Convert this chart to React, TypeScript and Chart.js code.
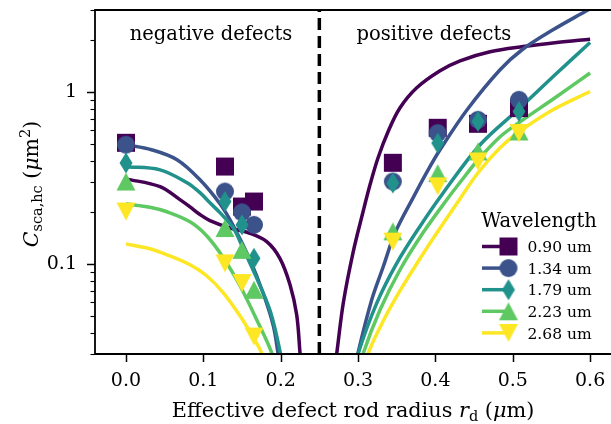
import React, { useEffect, useRef } from 'react';
import { Chart, registerables } from 'chart.js';

Chart.register(...registerables);

// ---------- data ----------
const WAVELENGTHS = ['0.90 um', '1.34 um', '1.79 um', '2.23 um', '2.68 um'];
const COLORS = ['#440154', '#3b528b', '#21918c', '#5ec962', '#fde725'];
const MARKERS = ['square', 'circle', 'thinDiamond', 'triangleUp', 'triangleDown'];

const X_TICKS = [0, 0.1, 0.2, 0.3, 0.4, 0.5, 0.6];
const Y_TICKS = [0.03, 0.04, 0.05, 0.06, 0.07, 0.08, 0.09, 0.1, 0.2, 0.3, 0.4, 0.5, 0.6, 0.7, 0.8, 0.9, 1, 2, 3];
const Y_LABELED = [0.1, 1];
const X_MIN = -0.04;
const X_MAX = 0.627;
const Y_MIN = 0.03;
const Y_MAX = 3;
const DIVIDER_X = 0.25;
const NEG_LABEL_X = 0.11;
const POS_LABEL_X = 0.398;

// measured points
const NEG_X = [0.0, 0.128, 0.150, 0.1655];
const POS_X = [0.345, 0.403, 0.455, 0.508];
const C_090_NEG = [0.507, 0.369, 0.216, 0.231];
const C_090_POS = [0.388, 0.620, 0.654, 0.807];
const C_134_NEG = [0.494, 0.264, 0.200, 0.169];
const C_134_POS = [0.302, 0.578, 0.690, 0.902];
const C_179_NEG = [0.387, 0.231, 0.169, 0.108];
const C_179_POS = [0.296, 0.505, 0.675, 0.771];
const C_223_NEG = [0.302, 0.162, 0.121, 0.0709];
const C_223_POS = [0.155, 0.338, 0.452, 0.590];
const C_268_NEG = [0.202, 0.101, 0.0776, 0.0379];
const C_268_POS = [0.135, 0.283, 0.395, 0.578];

// fitted curves [x, C]
const FIT_090_NEG = [[0, 0.313], [0.044, 0.282], [0.0698, 0.237], [0.0828, 0.215], [0.0957, 0.194], [0.1086, 0.179], [0.1345, 0.162], [0.1603, 0.151], [0.182, 0.135], [0.199, 0.108], [0.2121, 0.0758], [0.2207, 0.0507], [0.225, 0.0304], [0.2265, 0.025]];
const FIT_134_NEG = [[0, 0.494], [0.033, 0.462], [0.066, 0.404], [0.0957, 0.309], [0.1215, 0.224], [0.1388, 0.167], [0.1603, 0.106], [0.1776, 0.0672], [0.1905, 0.0438], [0.1966, 0.0302], [0.1985, 0.026]];
const FIT_179_NEG = [[0, 0.368], [0.044, 0.353], [0.079, 0.297], [0.0957, 0.260], [0.1086, 0.227], [0.1215, 0.199], [0.1388, 0.162], [0.1517, 0.1227], [0.169, 0.0829], [0.1867, 0.053], [0.1996, 0.0304], [0.2015, 0.026]];
const FIT_223_NEG = [[0, 0.224], [0.031, 0.214], [0.053, 0.2014], [0.0828, 0.176], [0.1043, 0.146], [0.1259, 0.1088], [0.1474, 0.0748], [0.169, 0.0475], [0.1888, 0.0302], [0.1905, 0.026]];
const FIT_268_NEG = [[0, 0.131], [0.031, 0.1227], [0.053, 0.1132], [0.0828, 0.099], [0.1043, 0.0855], [0.1259, 0.0681], [0.1474, 0.050], [0.1647, 0.0373], [0.1755, 0.0302], [0.177, 0.026]];

const FIT_090_POS = [[0.2705, 0.026], [0.2725, 0.0303], [0.281, 0.0596], [0.2935, 0.1163], [0.3065, 0.2014], [0.3155, 0.289], [0.3259, 0.415], [0.3388, 0.588], [0.3543, 0.810], [0.3759, 1.059], [0.406, 1.33], [0.4319, 1.52], [0.4707, 1.715], [0.5134, 1.84], [0.557, 1.943], [0.6, 2.03]];
const FIT_134_POS = [[0.298, 0.026], [0.300, 0.0304], [0.3177, 0.062], [0.3327, 0.0968], [0.3479, 0.152], [0.3718, 0.246], [0.3906, 0.353], [0.406, 0.462], [0.441, 0.789], [0.4836, 1.348], [0.5121, 1.762], [0.552, 2.30], [0.5936, 2.94], [0.6, 3.05]];
const FIT_179_POS = [[0.299, 0.026], [0.3004, 0.0304], [0.3242, 0.0593], [0.350, 0.101], [0.380, 0.1655], [0.410, 0.259], [0.4578, 0.494], [0.5095, 0.810], [0.5547, 1.26], [0.6, 1.94]];
const FIT_223_POS = [[0.305, 0.026], [0.3069, 0.0304], [0.3285, 0.0542], [0.3543, 0.0927], [0.384, 0.152], [0.4147, 0.2365], [0.4345, 0.309], [0.4552, 0.404], [0.4836, 0.550], [0.5095, 0.672], [0.5547, 0.927], [0.6, 1.29]];
const FIT_268_POS = [[0.3115, 0.026], [0.3133, 0.0304], [0.3327, 0.0468], [0.3543, 0.070], [0.380, 0.1074], [0.402, 0.152], [0.4319, 0.240], [0.4552, 0.3395], [0.4836, 0.4744], [0.5082, 0.5876], [0.552, 0.789], [0.6, 1.008]];

const MEAS_NEG = [C_090_NEG, C_134_NEG, C_179_NEG, C_223_NEG, C_268_NEG];
const MEAS_POS = [C_090_POS, C_134_POS, C_179_POS, C_223_POS, C_268_POS];
const FITS_NEG = [FIT_090_NEG, FIT_134_NEG, FIT_179_NEG, FIT_223_NEG, FIT_268_NEG];
const FITS_POS = [FIT_090_POS, FIT_134_POS, FIT_179_POS, FIT_223_POS, FIT_268_POS];

// ---------- styling ----------
const FONT = '"DejaVu Serif", serif';

function makeMarker(kind: string, color: string): HTMLCanvasElement {
  const S = 26;
  const c = document.createElement('canvas');
  c.width = S;
  c.height = S;
  const g = c.getContext('2d')!;
  const m = S / 2;
  g.fillStyle = color;
  g.beginPath();
  if (kind === 'square') {
    g.rect(m - 9, m - 9, 18, 18);
  } else if (kind === 'circle') {
    g.arc(m, m, 9, 0, Math.PI * 2);
  } else if (kind === 'thinDiamond') {
    g.moveTo(m, m - 10.5);
    g.lineTo(m + 6.5, m);
    g.lineTo(m, m + 10.5);
    g.lineTo(m - 6.5, m);
    g.closePath();
  } else if (kind === 'triangleUp') {
    g.moveTo(m, m - 9);
    g.lineTo(m + 9.5, m + 9);
    g.lineTo(m - 9.5, m + 9);
    g.closePath();
  } else {
    g.moveTo(m, m + 9);
    g.lineTo(m + 9.5, m - 9);
    g.lineTo(m - 9.5, m - 9);
    g.closePath();
  }
  g.fill();
  return c;
}

type Piece = { t: string; font: string; dy: number };

function drawPieces(ctx: CanvasRenderingContext2D, pieces: Piece[], cx: number, by: number) {
  let total = 0;
  const widths = pieces.map((p) => {
    ctx.font = p.font;
    const w = ctx.measureText(p.t).width;
    total += w;
    return w;
  });
  let x = cx - total / 2;
  ctx.textAlign = 'left';
  ctx.textBaseline = 'alphabetic';
  pieces.forEach((p, i) => {
    ctx.font = p.font;
    ctx.fillText(p.t, x, by + p.dy);
    x += widths[i];
  });
}

function zeroPad(s: any) {
  s.paddingLeft = 0;
  s.paddingRight = 0;
  s.paddingTop = 0;
  s.paddingBottom = 0;
}

export default function App() {
  const ref = useRef<HTMLCanvasElement | null>(null);

  useEffect(() => {
    const canvas = ref.current;
    if (!canvas) return;
    const markerImgs = MARKERS.map((k, i) => makeMarker(k, COLORS[i]));

    const datasets: any[] = [];
    WAVELENGTHS.forEach((w, i) => {
      [FITS_NEG[i], FITS_POS[i]].forEach((fit, side) => {
        datasets.push({
          label: w + (side ? ' pos fit' : ' neg fit'),
          data: fit.map(([x, y]) => ({ x, y })),
          borderColor: COLORS[i],
          backgroundColor: COLORS[i],
          borderWidth: 3.5,
          pointRadius: 0,
          pointHoverRadius: 0,
          fill: false,
          tension: 0.35,
          clip: 0,
          order: 30 - i,
        });
      });
    });
    WAVELENGTHS.forEach((w, i) => {
      const pts = [
        ...NEG_X.map((x, k) => ({ x, y: MEAS_NEG[i][k] })),
        ...POS_X.map((x, k) => ({ x, y: MEAS_POS[i][k] })),
      ];
      datasets.push({
        label: w,
        data: pts,
        showLine: false,
        pointStyle: markerImgs[i],
        pointRadius: 9,
        pointHoverRadius: 9,
        borderColor: COLORS[i],
        backgroundColor: COLORS[i],
        clip: false,
        order: 4 - i,
      });
    });
    datasets.push({
      label: 'divider',
      data: [{ x: DIVIDER_X, y: Y_MIN }, { x: DIVIDER_X, y: Y_MAX }],
      borderColor: '#000',
      borderWidth: 3.5,
      borderDash: [12, 6],
      pointRadius: 0,
      clip: 0,
      order: 10,
    });

    const decor = {
      id: 'decor',
      afterDraw(chart: any) {
        const ctx: CanvasRenderingContext2D = chart.ctx;
        const { left, right, top, bottom } = chart.chartArea;
        const xs = chart.scales.x;
        const ys = chart.scales.y;
        ctx.save();
        ctx.strokeStyle = '#000';
        ctx.fillStyle = '#000';
        // spines
        ctx.lineWidth = 1.8;
        ctx.lineCap = 'square';
        ctx.beginPath();
        ctx.moveTo(right + 2, top);
        ctx.lineTo(left, top);
        ctx.lineTo(left, bottom);
        ctx.lineTo(right + 2, bottom);
        ctx.stroke();
        // ticks
        ctx.lineCap = 'butt';
        ctx.lineWidth = 1.5;
        X_TICKS.forEach((v) => {
          const px = Math.round(xs.getPixelForValue(v)) + 0.5;
          ctx.beginPath();
          ctx.moveTo(px, bottom);
          ctx.lineTo(px, bottom + 8);
          ctx.stroke();
        });
        Y_TICKS.forEach((v) => {
          const major = Y_LABELED.includes(v);
          const py = Math.round(ys.getPixelForValue(v)) + 0.5;
          ctx.lineWidth = major ? 1.5 : 1.1;
          ctx.beginPath();
          ctx.moveTo(left - (major ? 8 : 4.5), py);
          ctx.lineTo(left, py);
          ctx.stroke();
        });
        // annotations
        ctx.font = `19.5px ${FONT}`;
        ctx.textAlign = 'center';
        ctx.textBaseline = 'alphabetic';
        ctx.fillText('negative defects', xs.getPixelForValue(NEG_LABEL_X), top + 30);
        ctx.fillText('positive defects', xs.getPixelForValue(POS_LABEL_X), top + 30);

        // x title
        drawPieces(ctx, [
          { t: 'Effective defect rod radius ', font: `20.8px ${FONT}`, dy: 0 },
          { t: 'r', font: `italic 20.8px ${FONT}`, dy: 0 },
          { t: 'd', font: `14.5px ${FONT}`, dy: 4 },
          { t: ' (', font: `20.8px ${FONT}`, dy: 0 },
          { t: 'μ', font: `italic 20.8px ${FONT}`, dy: 0 },
          { t: 'm)', font: `20.8px ${FONT}`, dy: 0 },
        ], (left + right) / 2, 417);

        // y title
        ctx.save();
        ctx.translate(38, (top + bottom) / 2 + 2);
        ctx.rotate(-Math.PI / 2);
        drawPieces(ctx, [
          { t: 'C', font: `italic 20.5px ${FONT}`, dy: 0 },
          { t: 'sca,hc', font: `14.5px ${FONT}`, dy: 4 },
          { t: ' (', font: `20.5px ${FONT}`, dy: 0 },
          { t: 'μ', font: `italic 20.5px ${FONT}`, dy: 0 },
          { t: 'm', font: `20.5px ${FONT}`, dy: 0 },
          { t: '2', font: `14.5px ${FONT}`, dy: -8 },
          { t: ')', font: `20.5px ${FONT}`, dy: 0 },
        ], 0, 0);
        ctx.restore();

        // legend
        const lineX0 = right - 129;
        const markX = right - 102.5;
        const textX = right - 83.5;
        ctx.font = `19.5px ${FONT}`;
        ctx.textAlign = 'center';
        ctx.fillText('Wavelength', right - 72, bottom - 127.5);
        WAVELENGTHS.forEach((w, i) => {
          const y = bottom - 107.5 + i * 21.6;
          ctx.strokeStyle = COLORS[i];
          ctx.lineWidth = 3.5;
          ctx.beginPath();
          ctx.moveTo(lineX0, y);
          ctx.lineTo(markX, y);
          ctx.stroke();
          const img = markerImgs[i];
          ctx.drawImage(img, markX - img.width / 2, y - img.height / 2);
          ctx.fillStyle = '#000';
          ctx.font = `15.5px ${FONT}`;
          ctx.textAlign = 'left';
          ctx.fillText(w, textX, y + 5.6);
        });
        ctx.restore();
      },
    };

    const chart = new Chart(canvas, {
      type: 'line',
      data: { datasets },
      options: {
        responsive: false,
        maintainAspectRatio: false,
        animation: false,
        events: [],
        layout: { autoPadding: false, padding: { top: 10, right: 0, left: 0, bottom: 0 } },
        plugins: { legend: { display: false }, tooltip: { enabled: false } },
        scales: {
          x: {
            type: 'linear',
            min: X_MIN,
            max: X_MAX,
            afterBuildTicks: (s: any) => {
              s.ticks = X_TICKS.map((v) => ({ value: v }));
            },
            afterFit: (s: any) => {
              s.height = 70;
              zeroPad(s);
            },
            ticks: {
              autoSkip: false,
              maxRotation: 0,
              padding: 8,
              color: '#000',
              font: { family: FONT, size: 19 },
              callback: (v: any) => Number(v).toFixed(1),
            },
            grid: { drawOnChartArea: false, drawTicks: true, tickLength: 8, color: 'rgba(0,0,0,0)' },
            border: { display: false },
          },
          y: {
            type: 'logarithmic',
            min: Y_MIN,
            max: Y_MAX,
            afterBuildTicks: (s: any) => {
              s.ticks = Y_TICKS.map((v) => ({ value: v, major: Y_LABELED.includes(v) }));
            },
            afterFit: (s: any) => {
              s.width = 95;
              zeroPad(s);
            },
            ticks: {
              autoSkip: false,
              padding: 10,
              color: '#000',
              font: { family: FONT, size: 19 },
              callback: (v: any) => (Y_LABELED.includes(Number(v)) ? String(Number(v)) : ''),
            },
            grid: { drawOnChartArea: false, drawTicks: true, tickLength: 8, color: 'rgba(0,0,0,0)' },
            border: { display: false },
          },
        },
      },
      plugins: [decor],
    } as any);

    return () => chart.destroy();
  }, []);

  return (
    <div style={{ position: 'absolute', left: 0, top: 0, width: 611, height: 424, background: '#fff' }}>
      <canvas ref={ref} width={611} height={424} style={{ display: 'block', width: 611, height: 424 }} />
    </div>
  );
}
